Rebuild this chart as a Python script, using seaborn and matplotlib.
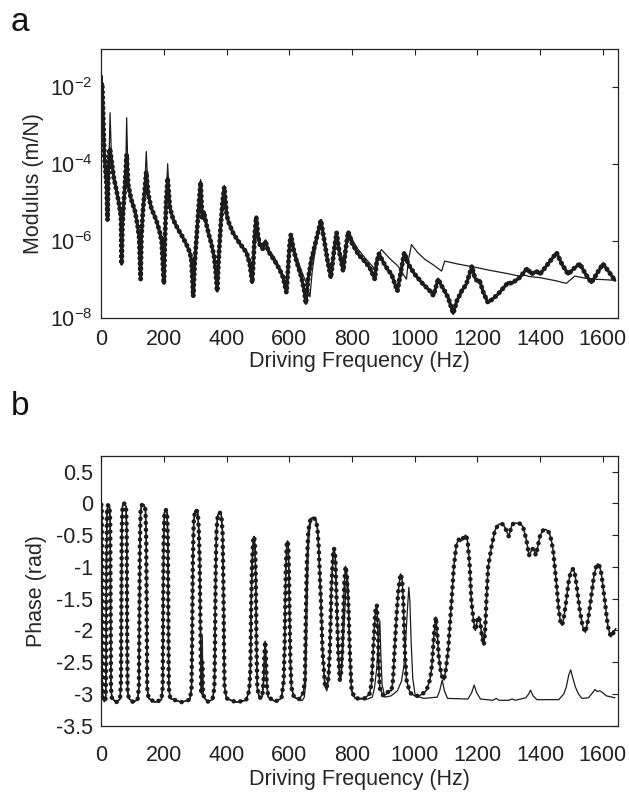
import numpy as np
import pandas as pd
import matplotlib
matplotlib.use("Agg")
import matplotlib.pyplot as plt
import seaborn as sns
from matplotlib.ticker import NullLocator

# ---------------- data ----------------
# Panel a: modulus, stored as log10 of m/N
mod_meas_f = [0, 1.5, 3, 6.4, 9.6, 13.9, 17, 20, 22.3, 25.5, 28,
              33, 40, 49, 57, 63, 65, 67.5, 70, 75, 78, 81,
              86, 95, 107.5, 116, 121, 125.6, 128, 133, 138, 143.6,
              150, 160, 176.6, 186, 192.6, 200, 203, 207, 211.8,
              219, 230, 245.6, 260, 272, 283, 288, 293.5, 298, 305, 311, 317,
              322, 327, 335, 344, 352, 360, 365, 370, 375, 381, 387, 392.5,
              400, 405, 420, 437, 450, 463.8, 474, 481.7, 486, 490, 494.6,
              500, 506, 515, 524, 533, 554, 570, 580.5, 591, 597, 601, 605,
              613, 623, 639, 648, 653, 660, 670, 685, 700.8,
              712, 722, 732.7, 742, 751, 760, 772, 780, 788,
              800, 820, 840, 857, 873, 878, 886, 900, 915, 926, 945, 956, 967,
              980, 1000, 1025, 1054, 1060, 1075, 1085, 1096, 1107, 1123, 1135, 1150, 1165, 1183,
              1192, 1200, 1207, 1220, 1234, 1250, 1266, 1285, 1298, 1310, 1335, 1359, 1373,
              1388, 1400, 1425, 1453, 1470, 1490, 1510, 1527, 1545, 1564, 1585, 1601, 1620, 1639]
mod_meas_log = [-2.9, -1.9, -1.9, -2.89, -3.75, -4.19, -4.53, -5.45, -4.36, -3.67, -3.6,
                -3.93, -4.35, -4.70, -5.05, -5.39, -6.6, -5.6, -5.22, -4.62, -4.2, -3.75,
                -4.53, -4.9, -5.22, -5.6, -5.91, -6.99, -5.9, -5.2, -4.75, -4.2,
                -4.79, -5.15, -5.48, -5.75, -6.0, -7.1, -6.0, -5.0, -4.36,
                -5.13, -5.45, -5.70, -5.9, -6.09, -6.3, -6.52, -7.44, -6.6, -5.8, -5.1, -4.47,
                -5.39, -5.23, -5.55, -5.85, -6.09, -6.4, -6.78, -7.30, -6.4, -5.6, -5.0, -4.6,
                -5.3, -5.48, -5.78, -6.0, -6.15, -6.30, -6.60, -7.08, -6.4, -5.8, -5.37,
                -5.85, -6.09, -6.2, -6.0, -6.26, -6.52, -6.75, -6.95, -7.34, -6.6, -6.1, -5.83,
                -6.2, -6.52, -6.95, -7.3, -7.62, -7.0, -6.5, -6.0, -5.46,
                -6.0, -6.5, -6.95, -6.3, -5.78, -6.3, -6.78, -6.2, -5.76,
                -6.05, -6.34, -6.52, -6.69, -6.99, -6.6, -6.33, -6.55, -6.75, -6.86, -7.30, -6.8, -6.30,
                -6.6, -6.86, -7.1, -7.34, -7.42, -6.99, -7.15, -7.30, -7.47, -7.88, -7.55, -7.30, -7.12, -6.65,
                -6.95, -7.04, -7.02, -7.35, -7.60, -7.5, -7.38, -7.2, -7.08, -7.10, -6.95, -6.71, -6.86,
                -6.78, -6.86, -6.6, -6.30, -6.6, -6.86, -6.7, -6.59, -6.85, -7.08, -6.8, -6.59, -6.8, -7.02]

mod_model_f = [0, 1.5, 3, 6.4, 9.6, 13.9, 17, 20, 22.3, 25.5, 28,
               33, 40, 49, 57, 63, 65, 67.5, 70, 75, 78, 81,
               86, 95, 107.5, 116, 121, 125.6, 128, 133, 138, 143.6,
               150, 160, 176.6, 186, 192.6, 200, 203, 207, 211.8,
               219, 230, 245.6, 260, 272, 283, 288, 293.5, 298, 305, 311, 317,
               322, 327, 335, 344, 352, 360, 365, 370, 375, 381, 387, 392.5,
               400, 405, 420, 437, 450, 463.8, 474, 481.7, 486, 490, 494.6,
               500, 506, 515, 524, 533, 554, 570, 580.5, 591, 598, 602, 606,
               615, 625, 640, 655, 666, 673, 685, 701,
               712, 722, 734, 743, 752, 761, 774, 782, 791,
               805, 820, 841, 868, 873, 878, 894, 920, 947, 974, 980, 990,
               1010, 1032, 1060, 1086, 1096, 1140, 1187, 1240, 1293, 1340, 1350, 1365,
               1399, 1450, 1484, 1511, 1559, 1600, 1639]
mod_model_log = [-2.9, -1.7, -1.7, -2.89, -3.75, -4.19, -4.53, -5.45, -4.36, -3.67, -2.66,
                 -3.93, -4.35, -4.70, -5.05, -5.39, -6.5, -5.6, -5.22, -4.62, -4.2, -2.79,
                 -4.53, -4.9, -5.22, -5.6, -5.91, -6.9, -5.9, -5.2, -4.75, -3.67,
                 -4.79, -5.15, -5.48, -5.75, -6.0, -7.0, -6.0, -5.0, -3.99,
                 -5.13, -5.45, -5.70, -5.9, -6.09, -6.3, -6.52, -7.4, -6.6, -5.8, -5.1, -4.40,
                 -5.39, -5.23, -5.55, -5.85, -6.09, -6.4, -6.78, -7.25, -6.4, -5.6, -5.0, -4.55,
                 -5.3, -5.48, -5.78, -6.0, -6.15, -6.30, -6.60, -7.05, -6.4, -5.8, -5.37,
                 -5.8, -6.02, -6.15, -5.97, -6.2, -6.45, -6.7, -6.9, -7.3, -6.5, -6.0, -5.83,
                 -6.2, -6.45, -6.8, -7.1, -7.45, -6.8, -6.1, -5.46,
                 -6.0, -6.45, -6.9, -6.25, -5.78, -6.25, -6.72, -6.2, -5.75,
                 -6.02, -6.22, -6.43, -6.68, -6.78, -6.45, -6.22, -6.45, -6.65, -6.99, -6.5, -6.09,
                 -6.3, -6.47, -6.62, -6.78, -6.52, -6.6, -6.67, -6.76, -6.84, -6.92, -6.88, -6.92,
                 -6.95, -7.03, -7.10, -6.91, -6.99, -7.0, -7.02]

# Panel b: phase (rad)
ph_meas_f = [0, 1.5, 2.5, 3.5, 5, 10, 14,
             15.5, 16.5, 18, 21, 26, 28.5, 29.5, 31, 34, 48, 60,
             63, 64, 65.5, 68, 74, 79, 81, 82.5, 84, 88, 102, 116,
             120, 121.5, 123, 125.5, 130, 136, 141, 143.5, 145, 146.5, 151, 172, 192,
             196, 197.5, 199, 201.5, 206, 210, 212.5, 214, 215.5, 220, 255, 283,
             288, 290, 292, 295, 299, 303, 308, 311, 314, 316.5, 319, 320.5, 322.5, 324.5, 330, 340, 355,
             361, 363, 365, 368, 372, 378, 383, 387, 389.5, 391.5, 393.5, 400, 430, 462,
             472, 476, 478.5, 481, 485, 488, 491, 493.5, 495.5, 498, 503, 509, 514,
             518, 520.5, 523, 525.5, 528, 533, 555, 575,
             582, 585, 587, 589, 592, 594.5, 597, 599, 601, 603.5, 607, 615, 632, 645,
             650, 653, 656, 660.7, 668, 676, 685, 690, 694, 698, 701, 706, 713.5, 719,
             725, 729.5, 735, 740, 743, 747, 751, 756, 761,
             765, 769, 775.6, 779.5, 783, 788, 793, 799, 810, 840, 856,
             862.5, 867.7, 871, 875, 879.5, 883.6, 885.7, 889, 900, 910, 918, 926,
             931, 936, 942, 948, 955, 960, 963.6, 968.7, 974, 985, 1000, 1015, 1030, 1038, 1044, 1048.6, 1053, 1056,
             1062, 1067.6, 1073, 1077, 1085, 1094, 1100, 1107, 1118, 1125, 1133.6, 1141, 1146, 1152, 1158, 1163,
             1167, 1170, 1176, 1181, 1188, 1194, 1200, 1205, 1210, 1215, 1221, 1225, 1229, 1234.6, 1245, 1256,
             1265, 1272, 1283, 1292, 1300.5, 1306, 1311, 1322, 1338, 1346, 1357, 1365, 1372, 1378, 1383, 1387,
             1393, 1399, 1408, 1417.5, 1425, 1431, 1437, 1442, 1447, 1452.5, 1460, 1466, 1470.6, 1476, 1484,
             1491, 1498, 1506, 1511, 1516, 1521, 1527, 1536, 1545, 1553, 1562, 1572, 1580, 1585, 1591, 1596,
             1601, 1607, 1612, 1617, 1626, 1633, 1642]
ph_meas_v = [-0.02, -0.02, -1.2, -2.9, -3.07, -3.12, -3.07,
             -2.5, -1.0, -0.15, -0.03, -0.03, -0.3, -1.5, -2.9, -3.07, -3.13, -3.08,
             -2.8, -1.8, -0.4, -0.03, 0.0, -0.05, -0.4, -2.0, -2.95, -3.07, -3.13, -3.09,
             -2.9, -2.0, -0.7, -0.12, -0.02, -0.02, -0.1, -0.6, -1.9, -2.9, -3.07, -3.13, -3.09,
             -2.9, -1.8, -0.6, -0.15, -0.1, -0.15, -0.6, -1.8, -2.9, -3.07, -3.13, -3.09,
             -2.9, -2.2, -1.0, -0.3, -0.12, -0.1, -0.15, -0.4, -0.9, -2.0, -2.95, -3.0, -2.5, -3.0, -3.07, -3.12, -3.09,
             -2.9, -2.2, -1.1, -0.4, -0.18, -0.14, -0.18, -0.45, -1.2, -2.2, -2.9, -3.07, -3.13, -3.1,
             -2.95, -2.6, -1.6, -0.95, -0.58, -0.52, -0.7, -1.3, -2.3, -2.9, -3.03, -3.07, -3.03,
             -2.8, -2.4, -2.17, -2.4, -2.85, -3.05, -3.12, -3.07,
             -2.8, -2.3, -1.6, -1.0, -0.65, -0.59, -0.68, -1.1, -1.8, -2.5, -2.9, -3.05, -3.08, -2.98,
             -2.78, -1.74, -0.95, -0.43, -0.24, -0.22, -0.26, -0.4, -0.7, -1.2, -1.53, -2.31, -2.84, -2.91,
             -2.75, -2.31, -1.26, -0.78, -0.71, -0.85, -1.53, -2.31, -2.78,
             -2.7, -2.31, -1.26, -0.99, -1.1, -1.53, -2.31, -2.95, -3.07, -3.07, -3.0,
             -2.84, -2.31, -2.0, -1.68, -1.6, -2.1, -2.58, -2.91, -3.03, -3.0, -2.95, -2.95,
             -2.78, -2.31, -1.79, -1.37, -1.11, -1.2, -1.5, -2.31, -2.78, -2.98, -3.03, -3.03, -2.98, -2.94, -2.85, -2.78, -2.65, -2.5,
             -2.05, -1.79, -2.1, -2.42, -2.7, -2.78, -2.6, -2.31, -1.53, -1.0, -0.64, -0.57, -0.6, -0.57, -0.52, -0.50,
             -0.55, -0.64, -1.0, -1.53, -1.85, -2.0, -1.85, -1.78, -1.9, -2.1, -2.23, -2.0, -1.53, -1.0, -0.69, -0.43,
             -0.35, -0.32, -0.33, -0.42, -0.52, -0.42, -0.33, -0.31, -0.32, -0.37, -0.58, -0.82, -0.75, -0.71, -0.76, -0.82,
             -0.68, -0.53, -0.43, -0.41, -0.43, -0.48, -0.6, -0.74, -0.98, -1.26, -1.68, -1.88, -1.92, -1.8, -1.53,
             -1.25, -1.08, -1.03, -1.1, -1.26, -1.45, -1.68, -1.93, -2.03, -1.85, -1.53, -1.15, -0.98, -0.95, -1.0, -1.11,
             -1.3, -1.53, -1.75, -1.94, -2.10, -2.05, -1.97]

ph_model_f = [0, 1.5, 2.5, 3.5, 5, 10, 14,
              15.5, 16.5, 18, 21, 26, 28.5, 29.5, 31, 34, 48, 60,
              63, 64, 65.5, 68, 74, 79, 81, 82.5, 84, 88, 102, 116,
              120, 121.5, 123, 125.5, 130, 136, 141, 143.5, 145, 146.5, 151, 172, 192,
              196, 197.5, 199, 201.5, 206, 210, 212.5, 214, 215.5, 220, 255, 283,
              288, 290, 292, 295, 299, 303, 308, 311, 314, 316.5, 319, 320.5, 322.5, 324.5, 330, 340, 355,
              361, 363, 365, 368, 372, 378, 383, 387, 389.5, 391.5, 393.5, 400, 430, 462,
              472, 476, 478.5, 481, 485, 488, 491, 493.5, 495.5, 498, 503, 509, 514,
              518, 520.5, 523, 525.5, 528, 533, 555, 575,
              582, 585, 587, 589, 592, 594.5, 597, 599, 601, 603.5, 607, 615, 632,
              642, 648, 652, 655, 658, 661, 665, 670, 677, 685, 690, 694, 698, 701, 706, 713.5, 720,
              725, 729.5, 735, 740, 743, 747, 751, 756, 761,
              765, 770, 776, 781, 786, 789, 792, 796, 802, 815, 850,
              865, 872, 879, 884, 889, 892, 896, 905, 925,
              945, 958, 966, 971, 976, 981.5, 985, 989, 994, 1002, 1030,
              1072, 1080, 1088, 1095, 1105, 1170, 1182, 1190, 1198, 1210, 1250, 1260, 1270,
              1300, 1311, 1322, 1355, 1364, 1370, 1378, 1390, 1460, 1476, 1484, 1492, 1498,
              1505, 1513, 1523, 1534, 1555, 1568, 1575, 1583, 1591, 1600, 1612, 1639]
ph_model_v = [-0.02, -0.02, -1.2, -2.9, -3.07, -3.12, -3.07,
              -2.5, -1.0, -0.15, -0.03, -0.03, -0.3, -1.5, -2.9, -3.07, -3.13, -3.08,
              -2.8, -1.8, -0.4, -0.03, 0.0, -0.05, -0.4, -2.0, -2.95, -3.07, -3.13, -3.09,
              -2.9, -2.0, -0.7, -0.12, -0.02, -0.02, -0.1, -0.6, -1.9, -2.9, -3.07, -3.13, -3.09,
              -2.9, -1.8, -0.6, -0.15, -0.1, -0.15, -0.6, -1.8, -2.9, -3.07, -3.13, -3.09,
              -2.9, -2.2, -1.0, -0.3, -0.12, -0.1, -0.15, -0.4, -0.9, -2.0, -2.95, -3.0, -2.08, -3.0, -3.07, -3.12, -3.09,
              -2.9, -2.2, -1.1, -0.4, -0.18, -0.14, -0.18, -0.45, -1.2, -2.2, -2.9, -3.07, -3.13, -3.1,
              -2.95, -2.6, -1.6, -1.0, -0.65, -0.6, -0.75, -1.3, -2.3, -2.9, -3.03, -3.07, -3.03,
              -2.8, -2.5, -2.3, -2.5, -2.85, -3.05, -3.12, -3.07,
              -2.8, -2.3, -1.6, -1.05, -0.78, -0.75, -0.8, -1.15, -1.8, -2.5, -2.9, -3.05, -3.1,
              -3.1, -3.05, -2.85, -2.2, -1.3, -0.7, -0.4, -0.26, -0.22, -0.26, -0.4, -0.7, -1.2, -1.53, -2.31, -2.88, -2.95,
              -2.75, -2.31, -1.26, -0.78, -0.73, -0.88, -1.53, -2.31, -2.8,
              -2.75, -2.45, -1.8, -1.3, -1.13, -1.5, -2.2, -2.75, -3.02, -3.08, -3.08,
              -3.05, -2.9, -2.6, -2.2, -1.85, -2.35, -2.85, -3.05, -3.03,
              -2.95, -2.8, -2.55, -2.2, -1.75, -1.32, -1.55, -2.2, -2.75, -3.03, -3.07,
              -3.05, -2.95, -2.78, -2.95, -3.07, -3.08, -2.98, -2.86, -2.98, -3.08, -3.1, -3.07, -3.1,
              -3.1, -3.08, -3.1, -3.06, -3.0, -2.94, -3.03, -3.09, -3.09, -3.0, -2.89, -2.7, -2.62,
              -2.75, -2.89, -3.0, -3.07, -3.06, -2.98, -2.93, -2.96, -2.95, -2.98, -3.03, -3.06]

x_ticks = [0, 200, 400, 600, 800, 1000, 1200, 1400, 1600]
mod_ticks = [1e-8, 1e-6, 1e-4, 1e-2]
mod_tick_labels = [r"$10^{-8}$", r"$10^{-6}$", r"$10^{-4}$", r"$10^{-2}$"]
ph_ticks = [-3.5, -3, -2.5, -2, -1.5, -1, -0.5, 0, 0.5]
ph_tick_labels = ["-3.5", "-3", "-2.5", "-2", "-1.5", "-1", "-0.5", "0", "0.5"]

# ---------------- style ----------------
sns.set_theme(style="white")
plt.rcParams["font.family"] = ["Liberation Sans", "DejaVu Sans"]
plt.rcParams["mathtext.fontset"] = "custom"
plt.rcParams["mathtext.rm"] = "Liberation Sans"
plt.rcParams["mathtext.it"] = "Liberation Sans"
plt.rcParams["axes.edgecolor"] = "#222222"
plt.rcParams["axes.linewidth"] = 0.9

ink = "#1c1c1c"
fs = 15.5

fig = plt.figure(figsize=(6.29, 8.01), dpi=100)
ax1 = fig.add_axes([0.161, 0.603, 0.822, 0.336])
ax2 = fig.add_axes([0.161, 0.094, 0.822, 0.337])

df_mm = pd.DataFrame({"f": mod_meas_f, "m": np.power(10.0, mod_meas_log)})
df_mo = pd.DataFrame({"f": mod_model_f, "m": np.power(10.0, mod_model_log)})
df_pm = pd.DataFrame({"f": ph_meas_f, "p": ph_meas_v})
df_po = pd.DataFrame({"f": ph_model_f, "p": ph_model_v})

def dots(spacing):
    return dict(linestyle=(0, (0.01, spacing)), dash_capstyle="round",
                solid_capstyle="round")

# panel a
sns.lineplot(data=df_mm, x="f", y="m", ax=ax1, color=ink, lw=3.6,
             estimator=None, sort=False, **dots(1.05))
sns.lineplot(data=df_mm, x="f", y="m", ax=ax1, color=ink, lw=2.2,
             estimator=None, sort=False)
sns.lineplot(data=df_mo, x="f", y="m", ax=ax1, color=ink, lw=0.9,
             estimator=None, sort=False)
ax1.set_yscale("log")
ax1.set_xlim(0, 1650)
ax1.set_ylim(1e-8, 1e-1)
ax1.set_xticks(x_ticks)
ax1.set_xticklabels([str(t) for t in x_ticks])
ax1.set_yticks(mod_ticks)
ax1.set_yticklabels(mod_tick_labels)
ax1.yaxis.set_minor_locator(NullLocator())
ax1.set_xlabel("Driving Frequency (Hz)", fontsize=fs)
ax1.set_ylabel("Modulus (m/N)", fontsize=fs)

# panel b
sns.lineplot(data=df_pm, x="f", y="p", ax=ax2, color=ink, lw=3.3,
             estimator=None, sort=False, **dots(1.5))
sns.lineplot(data=df_pm, x="f", y="p", ax=ax2, color=ink, lw=1.1,
             estimator=None, sort=False)
sns.lineplot(data=df_po, x="f", y="p", ax=ax2, color=ink, lw=0.9,
             estimator=None, sort=False)
ax2.set_xlim(0, 1650)
ax2.set_ylim(-3.5, 0.75)
ax2.set_xticks(x_ticks)
ax2.set_xticklabels([str(t) for t in x_ticks])
ax2.set_yticks(ph_ticks)
ax2.set_yticklabels(ph_tick_labels)
ax2.set_xlabel("Driving Frequency (Hz)", fontsize=fs)
ax2.set_ylabel("Phase (rad)", fontsize=fs)

for ax in (ax1, ax2):
    ax.tick_params(direction="in", length=4.5, width=0.8, top=True, right=True,
                   labelsize=fs, colors="#222222")
    ax.tick_params(axis="y", pad=6)
    for s in ax.spines.values():
        s.set_visible(True)
        s.set_color("#222222")
    ax.xaxis.label.set_va("center")
    ax.yaxis.label.set_va("center")

ax1.tick_params(axis="x", pad=8)
ax2.tick_params(axis="x", pad=14)
ax1.xaxis.set_label_coords(0.5, -0.163)
ax2.xaxis.set_label_coords(0.5, -0.201)
ax1.yaxis.set_label_coords(-0.132, 0.5)
ax2.yaxis.set_label_coords(-0.126, 0.5)

fig.text(0.017, 0.972, "a", fontsize=24, va="center", ha="left", color="#111111")
fig.text(0.017, 0.493, "b", fontsize=24, va="center", ha="left", color="#111111")

fig.savefig("out.png", dpi=100, facecolor="white")
